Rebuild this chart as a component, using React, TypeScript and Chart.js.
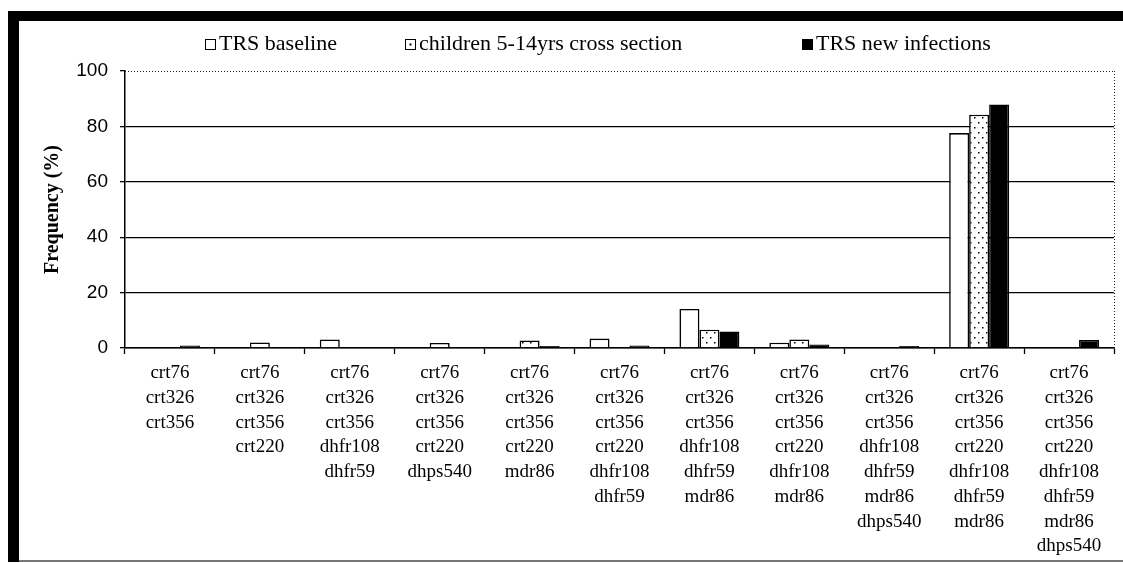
import React, { useEffect, useRef } from "react";
import { Chart, registerables } from "chart.js";

Chart.register(...registerables);

const categories: string[][] = [
  ["crt76", "crt326", "crt356"],
  ["crt76", "crt326", "crt356", "crt220"],
  ["crt76", "crt326", "crt356", "dhfr108", "dhfr59"],
  ["crt76", "crt326", "crt356", "crt220", "dhps540"],
  ["crt76", "crt326", "crt356", "crt220", "mdr86"],
  ["crt76", "crt326", "crt356", "crt220", "dhfr108", "dhfr59"],
  ["crt76", "crt326", "crt356", "dhfr108", "dhfr59", "mdr86"],
  ["crt76", "crt326", "crt356", "crt220", "dhfr108", "mdr86"],
  ["crt76", "crt326", "crt356", "dhfr108", "dhfr59", "mdr86", "dhps540"],
  ["crt76", "crt326", "crt356", "crt220", "dhfr108", "dhfr59", "mdr86"],
  ["crt76", "crt326", "crt356", "crt220", "dhfr108", "dhfr59", "mdr86", "dhps540"],
];

const seriesNames = ["TRS baseline", "children 5-14yrs cross section", "TRS new infections"];
const trsBaseline = [0, 0, 3.1, 0, 0, 3.4, 14.1, 1.9, 0, 77.6, 0];
const children = [0, 2.0, 0, 1.8, 2.7, 0, 6.6, 3.1, 0, 84.2, 0];
const trsNew = [0.9, 0, 0, 0, 0.7, 0.9, 6.0, 1.3, 0.7, 87.9, 2.9];

const yTicks = [0, 20, 40, 60, 80, 100];

const W = 1123;
const H = 563;
const LEGEND_X = [205, 405, 802];
const LEGEND_Y = 44;

function makeDots(ctx: CanvasRenderingContext2D): CanvasPattern | string {
  const t = document.createElement("canvas");
  t.width = 8;
  t.height = 10;
  const c = t.getContext("2d");
  if (!c) return "#fff";
  c.fillStyle = "#fff";
  c.fillRect(0, 0, 8, 10);
  c.fillStyle = "#000";
  c.fillRect(2, 2, 1.5, 1.5);
  c.fillRect(6, 7, 1.5, 1.5);
  return ctx.createPattern(t, "repeat") || "#fff";
}

export default function App() {
  const ref = useRef<HTMLCanvasElement | null>(null);

  useEffect(() => {
    const canvas = ref.current;
    if (!canvas) return;
    const ctx = canvas.getContext("2d");
    if (!ctx) return;
    const dots = makeDots(ctx);

    const framePlugin = {
      id: "frame",
      beforeDraw(chart: any) {
        const c = chart.ctx;
        c.save();
        c.fillStyle = "#fff";
        c.fillRect(0, 0, W, H);
        c.fillStyle = "#000";
        c.fillRect(8, 11, W - 8, 10);
        c.fillRect(8, 11, 11, H - 12);
        c.fillStyle = "#777";
        c.fillRect(19, H - 3, W - 19, 2);
        c.restore();
      },
      afterDraw(chart: any) {
        const c = chart.ctx;
        const a = chart.chartArea;
        c.save();
        c.strokeStyle = "#222";
        c.lineWidth = 1;
        c.setLineDash([1, 2]);
        c.beginPath();
        c.moveTo(a.left, a.top + 0.5);
        c.lineTo(a.right, a.top + 0.5);
        c.moveTo(a.right + 0.5, a.top);
        c.lineTo(a.right + 0.5, a.bottom);
        c.stroke();
        c.restore();

        // legend
        c.save();
        c.font = "22px 'Liberation Serif'";
        c.textBaseline = "middle";
        c.textAlign = "left";
        chart.data.datasets.forEach((ds: any, i: number) => {
          const x = LEGEND_X[i];
          c.fillStyle = i === 1 ? "#fff" : ds.backgroundColor;
          c.fillRect(x, LEGEND_Y - 5, 11, 11);
          if (i === 1) {
            c.fillStyle = "#000";
            c.fillRect(x + 4.5, LEGEND_Y - 0.5, 2, 2);
          }
          c.strokeStyle = "#000";
          c.lineWidth = 1;
          c.strokeRect(x + 0.5, LEGEND_Y - 4.5, 10, 10);
          c.fillStyle = "#000";
          c.fillText(ds.label, x + 14, LEGEND_Y);
        });
        c.restore();
      },
    };

    const chart = new Chart(canvas, {
      type: "bar",
      data: {
        labels: categories,
        datasets: [
          { label: seriesNames[0], data: trsBaseline, backgroundColor: "#fff" },
          { label: seriesNames[1], data: children, backgroundColor: dots as any },
          { label: seriesNames[2], data: trsNew, backgroundColor: "#000" },
        ],
      },
      options: {
        responsive: false,
        animation: false,
        devicePixelRatio: 1,
        layout: { padding: { top: 71, right: 9, bottom: 0, left: 0 } },
        datasets: {
          bar: {
            categoryPercentage: 0.667,
            barPercentage: 1,
            borderColor: "#000",
            borderWidth: 1.6,
          },
        },
        plugins: {
          legend: { display: false },
          tooltip: { enabled: false },
          title: { display: false },
        },
        scales: {
          x: {
            afterFit(scale: any) {
              scale.height = H - 348;
            },
            grid: {
              offset: true,
              drawOnChartArea: false,
              drawTicks: true,
              tickLength: 6,
              tickColor: "#000",
              tickWidth: 1.3,
            },
            border: { display: true, color: "#000", width: 1.5 },
            ticks: {
              autoSkip: false,
              maxRotation: 0,
              minRotation: 0,
              padding: 7,
              color: "#000",
              font: { family: "'Liberation Serif'", size: 19, lineHeight: 24.7 / 19 },
            },
          },
          y: {
            min: 0,
            max: 100,
            afterFit(scale: any) {
              scale.width = 125;
            },
            afterBuildTicks(scale: any) {
              scale.ticks = yTicks.map((v) => ({ value: v }));
            },
            grid: {
              color: (c: any) => (c.tick && c.tick.value === 100 ? "rgba(0,0,0,0)" : "#000"),
              lineWidth: 1.3,
              drawTicks: true,
              tickLength: 5,
              tickColor: "#000",
              tickWidth: 1.3,
            },
            border: { display: true, color: "#000", width: 1.5 },
            ticks: {
              padding: 12,
              color: "#000",
              font: { family: "'Liberation Sans'", size: 19 },
            },
            title: {
              display: true,
              text: "Frequency (%)",
              color: "#000",
              padding: { top: 41, bottom: 0 },
              font: { family: "'Liberation Serif'", size: 20, weight: "bold" },
            },
          },
        },
      },
      plugins: [framePlugin],
    });

    return () => chart.destroy();
  }, []);

  return (
    <div style={{ position: "absolute", left: 0, top: 0, width: W, height: H }}>
      <canvas ref={ref} width={W} height={H} style={{ display: "block", width: W, height: H }} />
    </div>
  );
}
